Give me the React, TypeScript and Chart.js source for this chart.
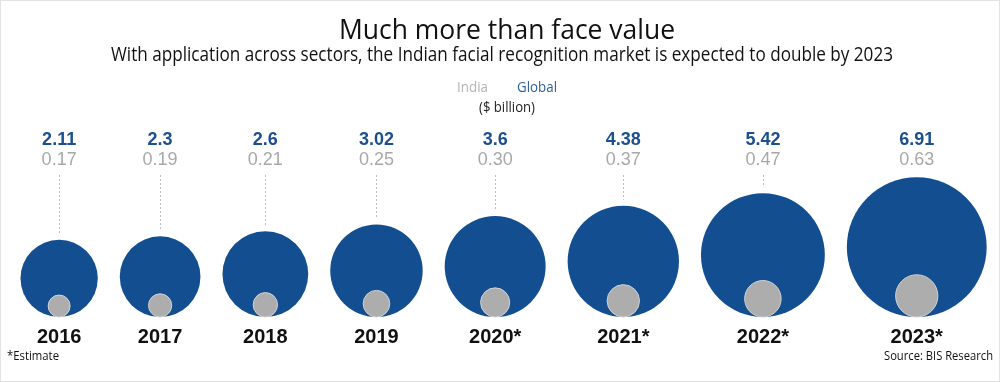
import React, { useEffect, useRef } from "react";
import { Chart, registerables } from "chart.js";

Chart.register(...registerables);

const years = ["2016", "2017", "2018", "2019", "2020*", "2021*", "2022*", "2023*"];
const globalValues = [2.11, 2.3, 2.6, 3.02, 3.6, 4.38, 5.42, 6.91];
const indiaValues = [0.17, 0.19, 0.21, 0.25, 0.3, 0.37, 0.47, 0.63];
const globalLabels = ["2.11", "2.3", "2.6", "3.02", "3.6", "4.38", "5.42", "6.91"];
const indiaLabels = ["0.17", "0.19", "0.21", "0.25", "0.30", "0.37", "0.47", "0.63"];
const seriesNames = ["India", "Global"];

const W = 1000;
const H = 382;
const K = 26.6; // px per sqrt($bn) – circle area proportional to value
const GAP = 22;
const LEFT = 20.5;
const BASE = 65; // distance of circle bottoms from canvas bottom

const BLUE = "#134f90";
const GREY = "#adadad";

const rad = (v: number) => K * Math.sqrt(v);

function centers(): number[] {
  const xs: number[] = [];
  globalValues.forEach((v, i) => {
    const r = rad(v);
    if (i === 0) xs.push(LEFT + r);
    else xs.push(xs[i - 1] + rad(globalValues[i - 1]) + GAP + r);
  });
  return xs;
}

function drawScaledText(
  ctx: CanvasRenderingContext2D,
  text: string,
  x: number,
  y: number,
  targetWidth: number,
  align: "center" | "left" | "right"
) {
  const w = ctx.measureText(text).width;
  const sx = targetWidth / w;
  ctx.save();
  ctx.translate(x, y);
  ctx.scale(sx, 1);
  ctx.textAlign = align;
  ctx.fillText(text, 0, 0);
  ctx.restore();
}

const textPlugin = {
  id: "textPlugin",
  afterDraw(chart: any) {
    const ctx: CanvasRenderingContext2D = chart.ctx;
    const sans = "'Open Sans', 'Noto Sans', sans-serif";
    const num = "'Liberation Sans', Arial, sans-serif";
    ctx.save();
    // border
    ctx.strokeStyle = "#e3e3e3";
    ctx.lineWidth = 1;
    ctx.strokeRect(0.5, 0.5, W - 1, H - 1);

    // title
    ctx.fillStyle = "#111111";
    ctx.textBaseline = "alphabetic";
    ctx.font = `28px ${sans}`;
    drawScaledText(ctx, "Much more than face value", 507, 39, 336, "center");
    ctx.font = `20px ${sans}`;
    drawScaledText(
      ctx,
      "With application across sectors, the Indian facial recognition market is expected to double by 2023",
      502,
      61,
      782,
      "center"
    );

    // legend
    ctx.font = `15px ${sans}`;
    ctx.fillStyle = "#b3b3b3";
    drawScaledText(ctx, seriesNames[0], 457, 92, 31, "left");
    ctx.fillStyle = "#2f5f98";
    drawScaledText(ctx, seriesNames[1], 517, 92, 40, "left");
    ctx.fillStyle = "#222222";
    drawScaledText(ctx, "($ billion)", 507, 112, 56, "center");

    // labels per column
    const metaG = chart.getDatasetMeta(1);
    const yScale = chart.scales.y;
    const bottom = yScale.getPixelForValue(BASE);
    metaG.data.forEach((el: any, i: number) => {
      const cx = el.x;
      const top = el.y - el.options.radius;
      ctx.textAlign = "center";
      ctx.textBaseline = "middle";
      ctx.font = `bold 18px ${num}`;
      ctx.fillStyle = "#1c4f8d";
      ctx.fillText(globalLabels[i], cx, 140);
      ctx.font = `18px ${num}`;
      ctx.fillStyle = "#a8a8a8";
      ctx.fillText(indiaLabels[i], cx, 160);
      const y0 = 175;
      const y1 = top - 6;
      if (y1 > y0) {
        ctx.save();
        ctx.strokeStyle = "#bdbdbd";
        ctx.lineWidth = 1;
        ctx.setLineDash([2, 2]);
        ctx.beginPath();
        ctx.moveTo(Math.round(cx) + 0.5, y0);
        ctx.lineTo(Math.round(cx) + 0.5, y1);
        ctx.stroke();
        ctx.restore();
      }
      ctx.font = `bold 20px ${num}`;
      ctx.fillStyle = "#111111";
      ctx.fillText(years[i], cx, bottom + 20);
    });

    // footnotes
    ctx.font = `13px ${sans}`;
    ctx.fillStyle = "#111111";
    ctx.textBaseline = "middle";
    drawScaledText(ctx, "*Estimate", 7, 356, 52, "left");
    drawScaledText(ctx, "Source: BIS Research", 993, 356, 109, "right");
    ctx.restore();
  },
};

export default function App() {
  const ref = useRef<HTMLCanvasElement>(null);
  useEffect(() => {
    if (!ref.current) return;
    const xs = centers();
    const chart = new Chart(ref.current, {
      type: "bubble",
      data: {
        datasets: [
          {
            label: seriesNames[0],
            data: indiaValues.map((v, i) => ({ x: xs[i], y: BASE + rad(v), r: rad(v) })),
            backgroundColor: GREY,
            borderColor: "#d3d3d3",
            borderWidth: 1,
            clip: false as any,
          },
          {
            label: seriesNames[1],
            data: globalValues.map((v, i) => ({ x: xs[i], y: BASE + rad(v), r: rad(v) })),
            backgroundColor: BLUE,
            borderWidth: 0,
            clip: false as any,
          },
        ],
      },
      options: {
        responsive: false,
        animation: false,
        events: [],
        layout: { padding: 0, autoPadding: false },
        scales: {
          x: { type: "linear", display: false, min: 0, max: W },
          y: { type: "linear", display: false, min: 0, max: H },
        },
        plugins: {
          legend: { display: false },
          title: { display: false },
          tooltip: { enabled: false },
        },
      },
      plugins: [textPlugin],
    });
    return () => chart.destroy();
  }, []);
  return (
    <div style={{ position: "absolute", left: 0, top: 0, width: W, height: H, background: "#ffffff" }}>
      <canvas ref={ref} width={W} height={H} style={{ display: "block" }} />
    </div>
  );
}
